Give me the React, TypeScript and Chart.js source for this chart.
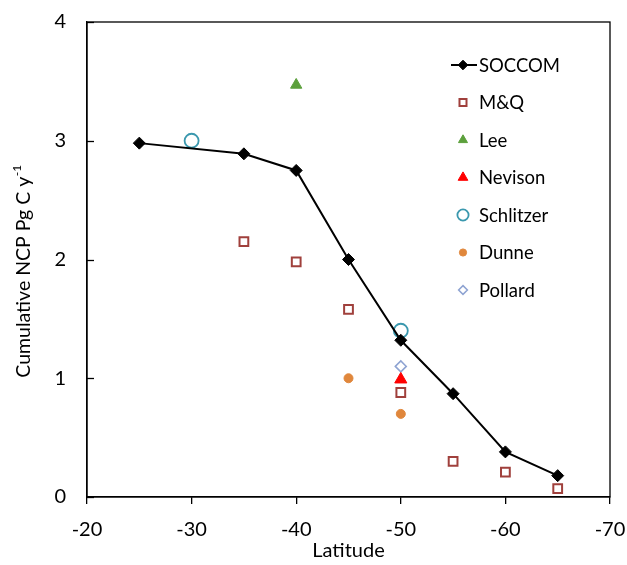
import React, { useEffect, useRef } from "react";
import { Chart, registerables } from "chart.js";

Chart.register(...registerables);

const latSOCCOM = [-25, -35, -40, -45, -50, -55, -60, -65];
const ncpSOCCOM = [2.98, 2.89, 2.75, 2.0, 1.32, 0.87, 0.38, 0.18];
const latMQ = [-35, -40, -45, -50, -55, -60, -65];
const ncpMQ = [2.15, 1.98, 1.58, 0.88, 0.3, 0.21, 0.07];
const latLee = [-40];
const ncpLee = [3.47];
const latNevison = [-50];
const ncpNevison = [0.99];
const latSchlitzer = [-30, -50];
const ncpSchlitzer = [3.0, 1.4];
const latDunne = [-45, -50];
const ncpDunne = [1.0, 0.7];
const latPollard = [-50];
const ncpPollard = [1.1];

const xTicks = [-20, -30, -40, -50, -60, -70];
const yTicks = [0, 1, 2, 3, 4];

const FONT = "Lato, 'Noto Sans', sans-serif";

const pts = (xs: number[], ys: number[]) => xs.map((x, i) => ({ x, y: ys[i] }));

function drawMarker(ctx: CanvasRenderingContext2D, style: string, x: number, y: number, r: number, fill: string, stroke: string, lw: number) {
  ctx.save();
  ctx.beginPath();
  if (style === "rect") {
    const s = Math.SQRT1_2 * r;
    ctx.rect(x - s, y - s, 2 * s, 2 * s);
  } else if (style === "rectRot") {
    ctx.moveTo(x, y - r);
    ctx.lineTo(x + r, y);
    ctx.lineTo(x, y + r);
    ctx.lineTo(x - r, y);
    ctx.closePath();
  } else if (style === "triangle") {
    for (let k = 0; k < 3; k++) {
      const a = (k * 2 * Math.PI) / 3;
      const px = x + Math.sin(a) * r;
      const py = y - Math.cos(a) * r;
      if (k === 0) ctx.moveTo(px, py);
      else ctx.lineTo(px, py);
    }
    ctx.closePath();
  } else {
    ctx.arc(x, y, r, 0, Math.PI * 2);
  }
  ctx.fillStyle = fill;
  ctx.fill();
  ctx.lineWidth = lw;
  ctx.strokeStyle = stroke;
  ctx.stroke();
  ctx.restore();
}

const framePlugin = {
  id: "frame",
  beforeDatasetsDraw(chart: any) {
    const { ctx, chartArea: a, scales } = chart;
    ctx.save();
    ctx.strokeStyle = "#000";
    ctx.lineWidth = 1.3;
    ctx.strokeRect(a.left, a.top, a.right - a.left, a.bottom - a.top);
    // inward y ticks
    yTicks.forEach((v) => {
      const py = Math.round(scales.y.getPixelForValue(v)) + 0.5;
      ctx.beginPath();
      ctx.moveTo(a.left, py);
      ctx.lineTo(a.left + 7, py);
      ctx.stroke();
    });
    ctx.restore();
  },
  afterDraw(chart: any) {
    const { ctx, chartArea: a } = chart;
    ctx.save();
    // y axis title with superscript
    const cy = (a.top + a.bottom) / 2 + 12;
    ctx.translate(24, cy);
    ctx.rotate(-Math.PI / 2);
    ctx.fillStyle = "#000";
    ctx.textBaseline = "middle";
    const main = "Cumulative NCP Pg C y";
    const sup = "-1";
    ctx.font = `19.5px ${FONT}`;
    const w1 = ctx.measureText(main).width;
    ctx.font = `12px ${FONT}`;
    const w2 = ctx.measureText(sup).width;
    const total = w1 + w2;
    ctx.font = `19.5px ${FONT}`;
    ctx.textAlign = "left";
    ctx.fillText(main, -total / 2, 0);
    ctx.font = `12px ${FONT}`;
    ctx.fillText(sup, -total / 2 + w1 + 0.5, -7);
    ctx.restore();

    // legend
    ctx.save();
    const lx = a.right - 147;
    const ly0 = a.top + 43;
    const step = 37.5;
    ctx.font = `18.5px ${FONT}`;
    ctx.textBaseline = "middle";
    ctx.textAlign = "left";
    chart.data.datasets.forEach((ds: any, i: number) => {
      const y = ly0 + i * step;
      if (ds.showLine) {
        ctx.beginPath();
        ctx.strokeStyle = ds.borderColor;
        ctx.lineWidth = ds.borderWidth;
        ctx.moveTo(lx - 12, y);
        ctx.lineTo(lx + 14, y);
        ctx.stroke();
      }
      drawMarker(ctx, ds.pointStyle, lx, y, ds.pointRadius * 0.8, ds.pointBackgroundColor, ds.pointBorderColor, ds.pointBorderWidth);
      ctx.fillStyle = "#000";
      ctx.fillText(ds.label, lx + 16, y + 1);
    });
    ctx.restore();
  },
};

export default function App() {
  const ref = useRef<HTMLCanvasElement | null>(null);

  useEffect(() => {
    document.body.style.margin = "0";
    const canvas = ref.current!;
    const mk = (label: string, xs: number[], ys: number[], style: string, r: number, fill: string, stroke: string, bw: number, line = false) => ({
      label,
      data: pts(xs, ys),
      showLine: line,
      borderColor: line ? "#000" : stroke,
      borderWidth: line ? 2 : bw,
      pointStyle: style,
      pointRadius: r,
      pointHoverRadius: r,
      pointBackgroundColor: fill,
      pointBorderColor: stroke,
      pointBorderWidth: bw,
    });
    const chart = new Chart(canvas, {
      type: "scatter",
      data: {
        datasets: [
          mk("SOCCOM", latSOCCOM, ncpSOCCOM, "rectRot", 6, "#000", "#000", 1, true),
          mk("M&Q", latMQ, ncpMQ, "rect", 6.2, "#fff", "#A0403C", 2),
          mk("Lee", latLee, ncpLee, "triangle", 6.5, "#5CA03C", "#5CA03C", 1),
          mk("Nevison", latNevison, ncpNevison, "triangle", 7, "#FF0000", "#FF0000", 1),
          mk("Schlitzer", latSchlitzer, ncpSchlitzer, "circle", 7, "rgba(255,255,255,0)", "#3A98AE", 1.8),
          mk("Dunne", latDunne, ncpDunne, "circle", 4.5, "#E0873C", "#E0873C", 1),
          mk("Pollard", latPollard, ncpPollard, "rectRot", 5.5, "#fff", "#8EA3D2", 1.5),
        ] as any,
      },
      options: {
        animation: false,
        responsive: false,
        maintainAspectRatio: false,
        layout: { padding: { left: 0, right: 17, top: 22, bottom: 0 } },
        plugins: { legend: { display: false }, tooltip: { enabled: false } },
        scales: {
          x: {
            type: "linear",
            min: -70,
            max: -20,
            reverse: true,
            afterFit: (s: any) => {
              s.height = 68;
              s.paddingLeft = 0;
              s.paddingRight = 0;
            },
            afterBuildTicks: (s: any) => {
              s.ticks = xTicks.map((v) => ({ value: v }));
            },
            grid: {
              display: true,
              drawOnChartArea: false,
              drawTicks: true,
              tickLength: 7,
              color: "#000",
              lineWidth: 1.3,
            },
            border: { display: true, color: "#000", width: 1.3 },
            ticks: {
              color: "#000",
              font: { family: FONT, size: 20 },
              padding: 14,
              maxRotation: 0,
              callback: (v: any) => String(v),
            },
            title: {
              display: true,
              text: "Latitude",
              color: "#000",
              font: { family: FONT, size: 20 },
              padding: { top: 0, bottom: 2 },
            },
          },
          y: {
            type: "linear",
            min: 0,
            max: 4,
            afterFit: (s: any) => {
              s.width = 87;
              s.paddingTop = 0;
              s.paddingBottom = 0;
            },
            afterBuildTicks: (s: any) => {
              s.ticks = yTicks.map((v) => ({ value: v }));
            },
            grid: { display: false, drawTicks: false },
            border: { display: true, color: "#000", width: 1.3 },
            ticks: {
              color: "#000",
              font: { family: FONT, size: 20 },
              padding: 21,
              callback: (v: any) => String(v),
            },
          },
        },
      },
      plugins: [framePlugin],
    });
    return () => chart.destroy();
  }, []);

  return (
    <div style={{ width: 627, height: 565, position: "relative", background: "#fff" }}>
      <canvas ref={ref} width={627} height={565} style={{ display: "block", width: 627, height: 565 }} />
    </div>
  );
}
